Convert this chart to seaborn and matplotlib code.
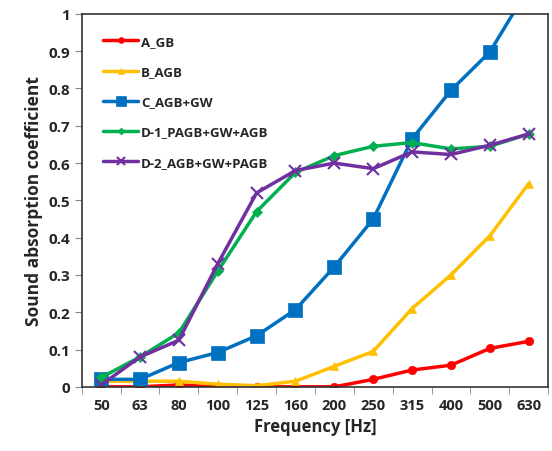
import numpy as np
import pandas as pd
import seaborn as sns
import matplotlib.pyplot as plt
from matplotlib.ticker import FixedLocator

freqs = ['50', '63', '80', '100', '125', '160', '200', '250', '315', '400', '500', '630']
a_gb = [0, 0, 0.005, 0, 0, 0, 0, 0.02, 0.045, 0.058, 0.103, 0.122]
b_agb = [0.015, 0.015, 0.015, 0.007, 0.003, 0.015, 0.055, 0.095, 0.21, 0.30, 0.405, 0.545]
c_agb_gw = [0.02, 0.02, 0.065, 0.092, 0.137, 0.207, 0.322, 0.45, 0.665, 0.795, 0.898, 1.07]
d1 = [0.025, 0.08, 0.145, 0.31, 0.47, 0.575, 0.62, 0.645, 0.655, 0.638, 0.645, 0.678]
d2 = [0.005, 0.08, 0.125, 0.33, 0.52, 0.58, 0.60, 0.585, 0.63, 0.623, 0.648, 0.678]

series = [
    ('A_GB', a_gb, '#FF0000', 'o', 6),
    ('B_AGB', b_agb, '#FFC000', '^', 6),
    ('C_AGB+GW', c_agb_gw, '#0070C0', 's', 10),
    ('D-1_PAGB+GW+AGB', d1, '#00B050', 'D', 5),
    ('D-2_AGB+GW+PAGB', d2, '#7030A0', 'x', 8),
]

sns.set_style("white")
plt.rcParams['font.family'] = ['Open Sans', 'DejaVu Sans']
plt.rcParams['font.weight'] = 'bold'

fig, ax = plt.subplots(figsize=(5.52, 4.52), dpi=100)
x = np.arange(len(freqs))
for name, vals, col, mk, ms in series:
    sns.lineplot(x=x, y=vals, ax=ax, color=col, marker=mk, markersize=ms,
                 linewidth=2.5, label=name, markeredgecolor=col,
                 markeredgewidth=1.5 if mk == 'x' else 0.5)

ax.set_xlim(-0.5, len(freqs) - 0.5)
ax.set_ylim(0, 1)
ax.set_xticks(x)
ax.set_xticklabels(freqs)
ax.xaxis.set_minor_locator(FixedLocator(np.arange(-0.5, len(freqs), 1)))
ax.tick_params(axis='x', which='major', length=0, labelsize=10.5, pad=8)
ax.tick_params(axis='x', which='minor', length=5, direction='out', color='#888888')
ax.set_yticks(np.arange(0, 1.01, 0.1))
ax.set_yticklabels(['0'] + ['%.1f' % v for v in np.arange(0.1, 0.95, 0.1)] + ['1'])
ax.tick_params(axis='y', length=5, direction='out', labelsize=11, color='#888888')
ax.tick_params(left=True, bottom=True, which='both')
for s in ax.spines.values():
    s.set_color('#333333')
    s.set_linewidth(1.2)

ax.set_xlabel('Frequency [Hz]', fontsize=12, fontweight='bold')
ax.set_ylabel('Sound absorption coefficient', fontsize=12.5, fontweight='bold')
ax.legend(loc='upper left', frameon=False, handlelength=2.7, markerscale=0.7,
          labelspacing=1.3, borderaxespad=1.2, handletextpad=0.2,
          prop={'weight': 'bold', 'size': 9.5})

plt.subplots_adjust(left=0.148, right=0.993, top=0.967, bottom=0.142)
plt.savefig('out.png', dpi=100)
